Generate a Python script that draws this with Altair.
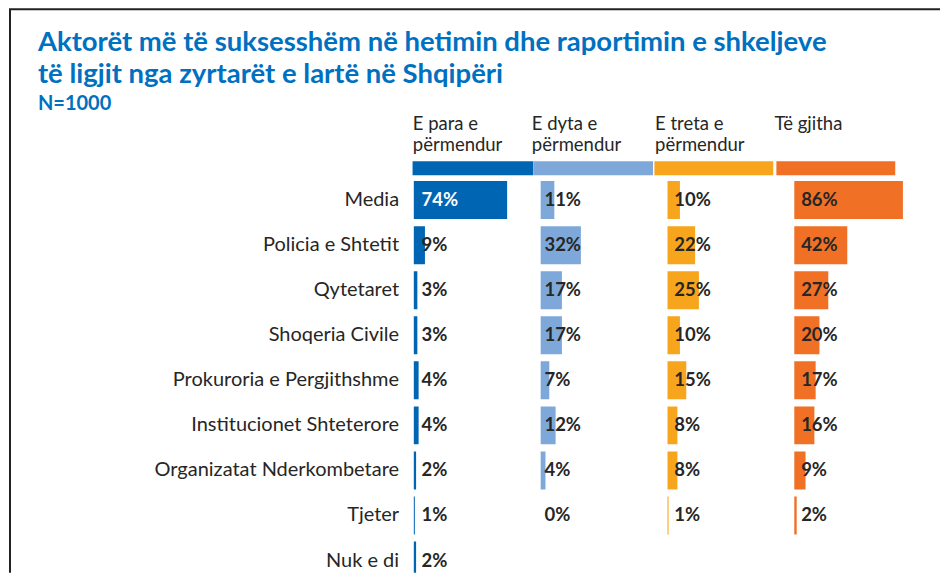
import altair as alt
import pandas as pd

title_line1 = "Aktorët më të suksesshëm në hetimin dhe raportimin e shkeljeve"
title_line2 = "të ligjit nga zyrtarët e lartë në Shqipëri"
subtitle = "N=1000"

categories = [
    "Media",
    "Policia e Shtetit",
    "Qytetaret",
    "Shoqeria Civile",
    "Prokuroria e Pergjithshme",
    "Institucionet Shteterore",
    "Organizatat Nderkombetare",
    "Tjeter",
    "Nuk e di",
]
columns = ["E para e përmendur", "E dyta e përmendur", "E treta e përmendur", "Të gjitha"]
header_lines = [["E para e", "përmendur"], ["E dyta e", "përmendur"], ["E treta e", "përmendur"], ["Të gjitha"]]

e_para = [74, 9, 3, 3, 4, 4, 2, 1, 2]
e_dyta = [11, 32, 17, 17, 7, 12, 4, 0, None]
e_treta = [10, 22, 25, 10, 15, 8, 8, 1, None]
te_gjitha = [86, 42, 27, 20, 17, 16, 9, 2, None]
series = [e_para, e_dyta, e_treta, te_gjitha]

colors = ["#0066B3", "#7FA8DA", "#F8A51E", "#F07025"]

rows = []
for col, vals in zip(columns, series):
    for cat, v in zip(categories, vals):
        if v is not None:
            rows.append({"category": cat, "column": col, "value": v, "label": f"{v}%"})
df = pd.DataFrame(rows)
one = pd.DataFrame({"k": [0]})

FONT = "Lato"
DARK = "#262626"
W = 126.6
H = 392
STEP = 45.1
PAD = 0.157
RANGE = STEP * (len(categories) - PAD)

header_rect_x = [(-1, 120), (-6.6, 112.7), (-12.9, 106.1), (-17.8, 101.2)]
header_text_x = [-0.7, -8.6, -12.2, -19.8]
label_dx = [8, 4, 7, 7]


def panel(i):
    sub = df[df["column"] == columns[i]]
    base = alt.Chart(sub)
    if i == 0:
        axis = alt.Axis(title=None, domain=False, ticks=False, labelPadding=15,
                        labelFontSize=20, labelFont=FONT, labelColor=DARK, labelLimit=400)
    else:
        axis = None
    y = alt.Y("category:N", sort=categories,
              scale=alt.Scale(domain=categories, range=[0, RANGE], paddingInner=PAD, paddingOuter=0),
              axis=axis)
    x = alt.X("value:Q", scale=alt.Scale(domain=[0, 100]), axis=None)
    bars = base.mark_bar(color=colors[i], clip=True).encode(x=x, y=y)
    if i == 0:
        tcolor = alt.condition("datum.value > 50", alt.value("white"), alt.value(DARK))
    else:
        tcolor = alt.value(DARK)
    labels = base.mark_text(align="left", baseline="middle", dx=label_dx[i], fontSize=18.5,
                            fontWeight="bold", font=FONT).encode(
        x=alt.datum(0), y=alt.Y("category:N", sort=categories), text="label:N", color=tcolor)
    hrect = alt.Chart(one).mark_rect(color=colors[i]).encode(
        x=alt.value(header_rect_x[i][0]), x2=alt.value(header_rect_x[i][1]),
        y=alt.value(-20), y2=alt.value(-6))
    htext = alt.Chart(one).mark_text(align="left", baseline="alphabetic", fontSize=18.5, font=FONT,
                                     color=DARK, lineHeight=21).encode(
        x=alt.value(header_text_x[i]), y=alt.value(-51), text=alt.value(header_lines[i]))
    layers = [bars, labels, hrect, htext]
    if i == 0:
        t1 = alt.Chart(one).mark_text(align="left", baseline="alphabetic", fontSize=27.5, font=FONT,
                                      fontWeight="bold", color="#0070C0").encode(
            x=alt.value(-376), y=alt.value(-130), text=alt.value(title_line1))
        t2 = alt.Chart(one).mark_text(align="left", baseline="alphabetic", fontSize=27.5, font=FONT,
                                      fontWeight="bold", color="#0070C0").encode(
            x=alt.value(-376), y=alt.value(-98), text=alt.value(title_line2))
        t3 = alt.Chart(one).mark_text(align="left", baseline="alphabetic", fontSize=20, font=FONT,
                                      fontWeight="bold", color="#0070C0").encode(
            x=alt.value(-376), y=alt.value(-71), text=alt.value(subtitle))
        frame_left = alt.Chart(one).mark_rule(color="#222222", strokeWidth=2).encode(
            x=alt.value(-404), y=alt.value(-172), y2=alt.value(H))
        frame_top = alt.Chart(one).mark_rule(color="#222222", strokeWidth=2).encode(
            x=alt.value(-405), x2=alt.value(527), y=alt.value(-172))
        layers += [t1, t2, t3, frame_left, frame_top]
    return alt.layer(*layers).properties(width=W, height=H)


chart = alt.hconcat(*[panel(i) for i in range(4)], spacing=0, bounds="flush").properties(
    padding=0, background="white"
).configure_view(strokeWidth=0, stroke="transparent")

chart.save("out.html", embed_options={"renderer": "svg", "actions": False})
